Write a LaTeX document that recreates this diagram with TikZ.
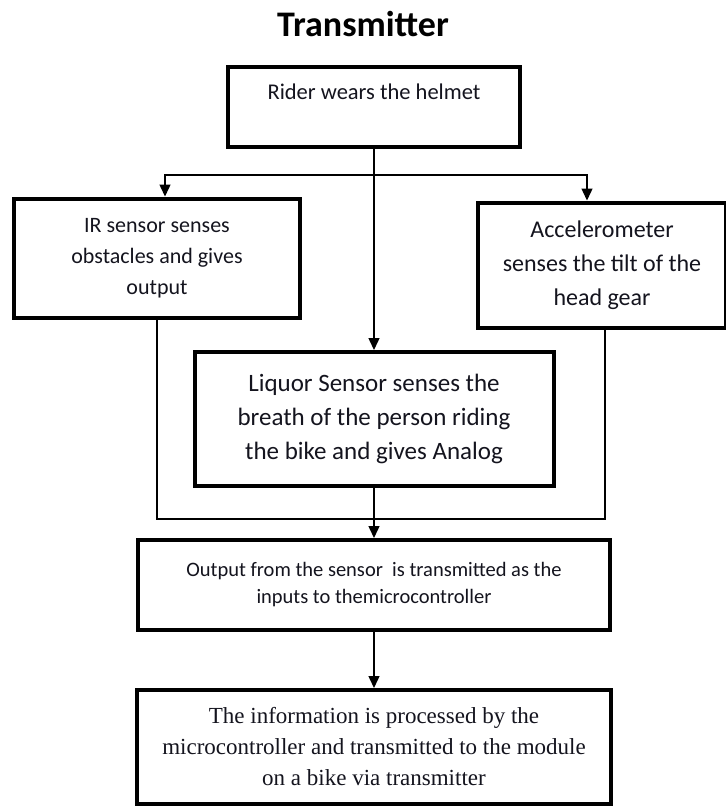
\documentclass[tikz,border=0pt]{standalone}
\usepackage{fontspec}
\setmainfont{Carlito}
\newfontfamily\timesfont{Liberation Serif}
\usepackage{tikz}
\usetikzlibrary{
  arrows.meta,
  positioning,
  calc
}
\definecolor{flowblack}{RGB}{0,0,0}
\definecolor{flowtext}{RGB}{20,20,30}
\tikzset{
  box/.style={
    rectangle, draw=flowblack, line width=4pt, fill=white,
    align=center, text=flowtext, inner sep=4pt
  },
  line/.style={line width=1.4pt, color=flowblack},
  arrow/.style={-{Triangle[length=12pt, width=11pt]}, line width=1.4pt, color=flowblack}
}

\begin{document}
\begin{tikzpicture}[x=1pt, y=-1pt]
  \useasboundingbox (0,0) rectangle (726,807);

  \node[font=\bfseries\fontsize{36}{42}\selectfont] (title) at (363,24) {Transmitter};

  \node[box, minimum width=292pt, minimum height=80pt, text depth=30pt,
        font=\fontsize{22.5}{27}\selectfont] (rider) at (374,107)
    {Rider wears the helmet};

  \node[box, minimum width=286pt, minimum height=119pt,
        font=\fontsize{22}{31}\selectfont] (ir) at (157,258)
    {IR sensor senses\\obstacles and gives\\output};

  \node[box, minimum width=248pt, minimum height=125pt,
        font=\fontsize{24}{34}\selectfont] (accel) at (602,265)
    {Accelerometer\\senses the tilt of the\\head gear};

  \node[box, below=201pt of rider, minimum width=359pt, minimum height=134pt,
        font=\fontsize{25}{34}\selectfont] (liquor)
    {Liquor Sensor senses the\\breath of the person riding\\the bike and gives Analog};

  \node[box, below=50pt of liquor, minimum width=472pt, minimum height=90pt,
        font=\fontsize{20.5}{27}\selectfont] (output)
    {Output from the sensor\ \ is transmitted as the\\inputs to themicrocontroller};

  \node[box, below=56pt of output, minimum width=474pt, minimum height=114pt,
        font=\timesfont\fontsize{23}{31}\selectfont] (process)
    {The information is processed by the\\microcontroller and transmitted to the module\\on a bike via transmitter};

  \coordinate (split) at (rider.south |- 0,175);
  \coordinate (merge) at (liquor.south |- 0,519);

  \draw[arrow] (rider) -- (liquor);
  \draw[arrow] (split) -| ([xshift=8pt]ir.north);
  \draw[arrow] (split) -| ([xshift=-15pt]accel.north);

  \draw[line] (ir.south) |- (merge);
  \draw[line] ([xshift=3pt]accel.south) |- (merge);

  \draw[arrow] (liquor) -- (output);
  \draw[arrow] (output) -- (process);
\end{tikzpicture}
\end{document}
